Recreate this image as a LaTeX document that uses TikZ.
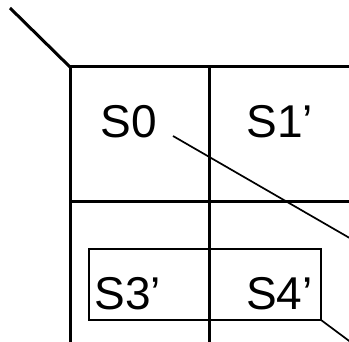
\documentclass[tikz,border=0pt]{standalone}
\usepackage{fontspec}
\setmainfont{Liberation Sans}
\usetikzlibrary{positioning}
\tikzset{
  thickrule/.style={line width=3pt},
  thinrule/.style={line width=1.7pt},
  cellname/.style={font=\fontsize{46}{46}\selectfont,inner sep=0pt,anchor=base west}
}
\begin{document}
\begin{tikzpicture}[x=1pt,y=-1pt]
  \useasboundingbox (0,0) rectangle (349,342);
  \clip (0,0) rectangle (349,342);
  \coordinate (corner) at (70,67);
  \draw[thickrule] (10,8) -- (corner);
  \draw[thickrule] (360,67) -- (corner) -- (70,360);
  \draw[thickrule] (209,67) -- (209,360);
  \draw[thickrule] (70,202) -- (360,202);
  \draw[thickrule] (70,343.2) -- (360,343.2);
  \node[cellname] (s0) at (100.5,137.5) {S0};
  \node[cellname] (s1) at (246.5,137.5) {S1’};
  \node[cellname] (s3) at (94.5,310) {S3’};
  \node[cellname] (s4) at (246,310) {S4’};
  \coordinate (pairnw) at (89,249);
  \coordinate (pairse) at (321,320);
  \draw[thinrule] (pairnw) rectangle (pairse);
  \coordinate (s0tail) at (173,136);
  \coordinate (outa) at (360,244);
  \coordinate (outb) at (360,349);
  \draw[thinrule] (s0tail) -- (outa);
  \draw[thinrule] (pairse) -- (outb);
\end{tikzpicture}
\end{document}
